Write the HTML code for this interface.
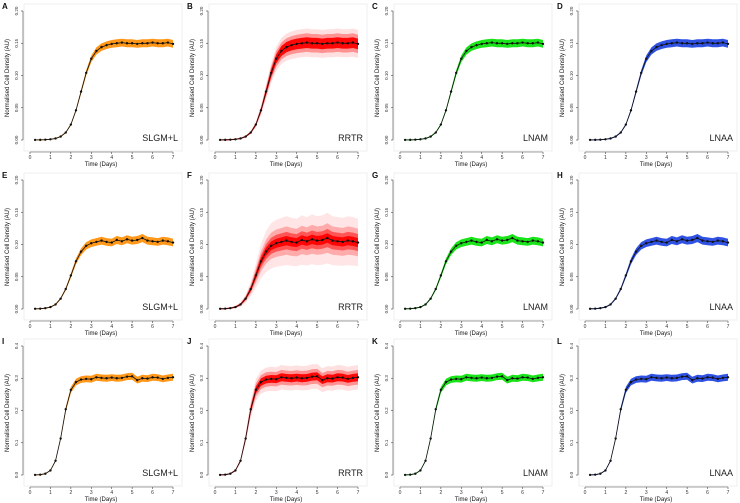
<!DOCTYPE html>
<html><head><meta charset="utf-8"><style>
html,body{margin:0;padding:0;background:#fff;width:740px;height:503px;overflow:hidden}
svg{display:block;font-family:"Liberation Sans",sans-serif}
</style></head><body>
<svg id="fig" width="740" height="503" viewBox="0 0 740 503"></svg>
<script>
const times=[0.25,0.5,0.75,1,1.25,1.5,1.75,2,2.25,2.5,2.75,3,3.25,3.5,3.75,4,4.25,4.5,4.75,5,5.25,5.5,5.75,6,6.25,6.5,6.75,7];
const row1Values=[0.0001,0.0002,0.0005,0.0011,0.0024,0.0053,0.0116,0.024,0.046,0.075,0.104,0.126,0.138,0.144,0.147,0.149,0.150,0.151,0.150,0.150,0.149,0.150,0.150,0.151,0.150,0.150,0.151,0.149];
const row2Values=[0.0003,0.0005,0.0013,0.003,0.007,0.016,0.031,0.052,0.074,0.089,0.098,0.102,0.104,0.106,0.104,0.103,0.107,0.105,0.108,0.106,0.107,0.110,0.106,0.105,0.104,0.106,0.105,0.103];
const row3Values=[0.0003,0.001,0.004,0.014,0.044,0.113,0.204,0.264,0.288,0.296,0.298,0.297,0.303,0.301,0.300,0.302,0.300,0.301,0.305,0.306,0.294,0.300,0.299,0.303,0.302,0.298,0.301,0.303];
const rowYMax=[0.20,0.20,0.4];
const row1Ticks=["0.00","0.05","0.10","0.15","0.20"];
const row2Ticks=["0.00","0.05","0.10","0.15","0.20"];
const row3Ticks=["0.0","0.1","0.2","0.3","0.4"];
const xTicks=[0,1,2,3,4,5,6,7];
const strainNames=["SLGM+L","RRTR","LNAM","LNAA"];
const strainColors=["#ff8c00","#ff0000","#00e000","#1a3fe0"];
const narrowBand=[[0.035],[0.05],[0.03]];
const redBand=[[0.14,0.09,0.05],[0.35,0.2,0.12,0.06],[0.12,0.07,0.035]];
const redOpac=[[0.12,0.35,0.95],[0.1,0.25,0.5,0.95],[0.12,0.35,0.95]];
const panelLetters=["A","B","C","D","E","F","G","H","I","J","K","L"];

const NS="http://www.w3.org/2000/svg";
const svg=document.getElementById('fig');
function mk(tag,attrs,parent){const e=document.createElementNS(NS,tag);for(const k in attrs)e.setAttribute(k,attrs[k]);(parent||svg).appendChild(e);return e;}
const rowsData=[row1Values,row2Values,row3Values];
const rowsTicks=[row1Ticks,row2Ticks,row3Ticks];
const rowY=[0,169,335];
const colX=[0,185,370,555];
for(let r=0;r<3;r++)for(let c=0;c<4;c++){
  const ox=colX[c],oy=rowY[r];
  const g=mk('g',{});
  
  
  const xs=t=>ox+30+t*(143/7);
  const ys=v=>oy+140-v/rowYMax[r]*129;
  const fr=mk('rect',{x:ox+24,y:oy+4,width:158,height:147,fill:'none',stroke:'#e4e4e4','stroke-width':0.6},g);
  
  const vals=rowsData[r];
  const bw=c===1?redBand[r]:narrowBand[r];
  const bo=c===1?redOpac[r]:[0.9];
  for(let k=0;k<bw.length;k++){
    let up=[],lo=[];
    for(let i=0;i<times.length;i++){up.push([xs(times[i]),ys(vals[i]*(1+bw[k])+rowYMax[r]*0.004)]);lo.push([xs(times[i]),ys(vals[i]*(1-bw[k])-rowYMax[r]*0.004)]);}
    const pts=up.concat(lo.reverse()).map(p=>p[0].toFixed(1)+','+p[1].toFixed(1)).join(' ');
    const b=mk('polygon',{points:pts,fill:strainColors[c],'fill-opacity':bo[k],stroke:'none'},g);
    
  }
  const line=mk('polyline',{points:times.map((t,i)=>xs(t).toFixed(1)+','+ys(vals[i]).toFixed(1)).join(' '),fill:'none',stroke:'#111','stroke-width':0.8},g);
  
  times.forEach((t,i)=>{const p=mk('circle',{cx:xs(t),cy:ys(vals[i]),r:1.2,fill:'#111'},g);
    });
  const ya=mk('line',{x1:ox+23,x2:ox+23,y1:ys(0),y2:ys(rowYMax[r]),stroke:'#444','stroke-width':0.6},g);
  
  rowsTicks[r].forEach((lab,i)=>{const v=rowYMax[r]*i/4;const y=ys(v);
    mk('line',{x1:ox+21,x2:ox+23,y1:y,y2:y,stroke:'#444','stroke-width':0.6},g);
    const t=mk('text',{x:ox+18,y:y,'font-size':4.5,fill:'#333','text-anchor':'middle',transform:`rotate(-90 ${ox+18} ${y})`},g);
    t.textContent=lab;});
  const xa=mk('line',{x1:xs(0),x2:xs(7),y1:oy+152,y2:oy+152,stroke:'#444','stroke-width':0.6},g);
  
  xTicks.forEach(v=>{const x=xs(v);
    mk('line',{x1:x,x2:x,y1:oy+152,y2:oy+154,stroke:'#444','stroke-width':0.6},g);
    const t=mk('text',{x:x,y:oy+159,'font-size':5,fill:'#333','text-anchor':'middle'},g);
    t.textContent=v;});
  const xt=mk('text',{x:ox+101,y:oy+166,'font-size':6,fill:'#111','text-anchor':'middle'},g);
  xt.textContent='Time (Days)';
  const yty=oy+78;
  const yt=mk('text',{x:ox+9,y:yty,'font-size':6,fill:'#111','text-anchor':'middle',transform:`rotate(-90 ${ox+9} ${yty})`},g);
  yt.textContent='Normalised Cell Density (AU)';
  const sn=mk('text',{x:ox+178,y:oy+141,'font-size':9,fill:'#222','text-anchor':'end'},g);
  sn.textContent=strainNames[c];
  const pl=mk('text',{x:ox+2,y:oy+9,'font-size':8,'font-weight':'bold',fill:'#111'},g);
  pl.textContent=panelLetters[r*4+c];
}
</script>
</body></html>
